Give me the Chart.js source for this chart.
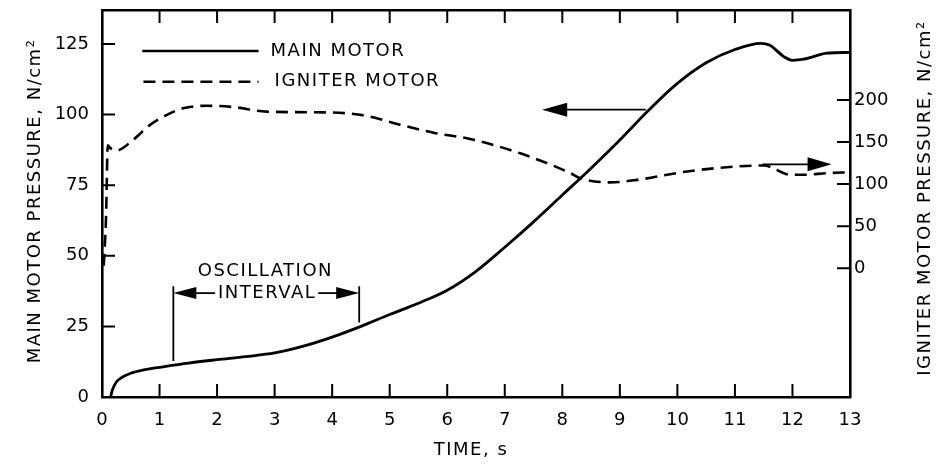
<!DOCTYPE html>
<html>
<head>
<meta charset="utf-8">
<script src="https://cdn.jsdelivr.net/npm/chart.js@4.4.1/dist/chart.umd.min.js"></script>
<style>
  html, body { margin: 0; padding: 0; background: #fff; }
  #wrap { width: 937px; height: 464px; }
</style>
</head>
<body>
<div id="wrap"><canvas id="chart"></canvas></div>
<script>
// Data
const mainTime     = [0.15, 0.18, 0.25, 0.35, 0.5, 0.75, 1.0, 1.5, 2.0, 2.5, 3.0, 3.5, 4.0, 4.5, 5.0, 5.5, 6.0, 6.5, 7.0, 7.5, 8.0, 8.5, 9.0, 9.5, 10.0, 10.5, 11.0, 11.45, 11.6, 11.85, 12.0, 12.2, 12.6, 13.0];
const mainPressure = [0, 2.5, 5.3, 7.0, 8.4, 9.7, 10.5, 12.0, 13.2, 14.3, 15.6, 18.0, 21.2, 25.0, 29.2, 33.2, 37.8, 44.5, 53, 62, 71.5, 81, 91, 101.5, 111, 118.3, 123, 125.2, 124.6, 120.5, 119.2, 119.6, 121.7, 122];

const igniterTime     = [0.03, 0.07, 0.1, 0.14, 0.26, 0.54, 0.83, 1.12, 1.41, 1.82, 2.28, 2.86, 4.0, 4.6, 5.18, 5.76, 6.4, 7.27, 8.14, 8.31, 8.83, 9.3, 10.17, 11.04, 11.5, 11.97, 12.2, 12.6, 13.0];
const igniterPressure = [3, 60, 146, 143, 140, 152.5, 170, 182, 190, 193, 191.5, 186, 185, 181, 170.5, 161, 153.5, 136.5, 113, 107, 102, 105, 115, 121, 122, 111, 111, 113, 114];

const timeTicks     = [0, 1, 2, 3, 4, 5, 6, 7, 8, 9, 10, 11, 12, 13];
const mainTicks     = [0, 25, 50, 75, 100, 125];
const igniterTicks  = [0, 50, 100, 150, 200];

const FONT = '"DejaVu Sans", sans-serif';
const toPoints = (xs, ys) => xs.map((x, i) => ({ x: x, y: ys[i] }));
const setTicks = list => scale => { scale.ticks = list.map(v => ({ value: v })); };
const noPad = s => { s.paddingTop = 0; s.paddingBottom = 0; s.paddingLeft = 0; s.paddingRight = 0; };

function arrowHead(ctx, x, y, dir, len, half) {
    ctx.beginPath();
    ctx.moveTo(x, y);
    ctx.lineTo(x - dir * len, y - half);
    ctx.lineTo(x - dir * len, y + half);
    ctx.closePath();
    ctx.fill();
}

function text(ctx, str, x, y, align, rot) {
    ctx.save();
    ctx.translate(x, y);
    if (rot) ctx.rotate(rot);
    ctx.textAlign = align || 'center';
    ctx.textBaseline = 'middle';
    ctx.fillText(str, 0, 0);
    ctx.restore();
}

// inward ticks, labels, arrows and titles
const decorations = {
    id: 'decorations',
    afterDraw(chart) {
        const { ctx, chartArea: a, scales } = chart;
        const X = v => scales.x.getPixelForValue(v);
        const Y = v => scales.y.getPixelForValue(v);
        const Y2 = v => scales.y2.getPixelForValue(v);
        const tl = 13;

        ctx.save();
        ctx.strokeStyle = '#000';
        ctx.fillStyle = '#000';
        ctx.lineWidth = 2;
        ctx.beginPath();
        timeTicks.slice(1, -1).forEach(v => {
            ctx.moveTo(X(v), a.bottom); ctx.lineTo(X(v), a.bottom - tl);
            ctx.moveTo(X(v), a.top); ctx.lineTo(X(v), a.top + tl);
        });
        mainTicks.slice(1).forEach(v => { ctx.moveTo(a.left, Y(v)); ctx.lineTo(a.left + tl, Y(v)); });
        igniterTicks.forEach(v => { ctx.moveTo(a.right, Y2(v)); ctx.lineTo(a.right - tl, Y2(v)); });
        ctx.stroke();

        ctx.font = '18px ' + FONT;
        ctx.letterSpacing = '1.5px';

        // legend
        ctx.lineWidth = 2.6;
        ctx.beginPath();
        ctx.moveTo(X(0.7), Y(122.5)); ctx.lineTo(X(2.72), Y(122.5));
        ctx.stroke();
        ctx.setLineDash([12, 7]);
        ctx.beginPath();
        ctx.moveTo(X(0.72), Y(111.6)); ctx.lineTo(X(2.72), Y(111.6));
        ctx.stroke();
        ctx.setLineDash([]);
        text(ctx, 'MAIN MOTOR', X(2.93), Y(122.5), 'left');
        text(ctx, 'IGNITER MOTOR', X(3.0), Y(111.6), 'left');

        // arrow to the main motor axis
        ctx.lineWidth = 1.8;
        ctx.beginPath();
        ctx.moveTo(X(9.45), Y(101.7)); ctx.lineTo(X(7.65) + 20, Y(101.7));
        ctx.stroke();
        arrowHead(ctx, X(7.65), Y(101.7), -1, 25, 7);

        // arrow to the igniter motor axis
        ctx.beginPath();
        ctx.moveTo(X(11.48), Y2(123.4)); ctx.lineTo(X(12.68) - 20, Y2(123.4));
        ctx.stroke();
        arrowHead(ctx, X(12.68), Y2(123.4), 1, 24, 7);

        // oscillation interval bracket
        const xl = X(1.24), xr = X(4.47), ya = Y(36.8);
        ctx.beginPath();
        ctx.moveTo(xl, Y(39.2)); ctx.lineTo(xl, Y(12.7));
        ctx.moveTo(xr, Y(39.2)); ctx.lineTo(xr, Y(26.4));
        ctx.stroke();
        text(ctx, 'OSCILLATION', X(2.84), Y(44.5));
        const label = 'INTERVAL';
        const cx = X(2.87);
        const w = ctx.measureText(label).width;
        text(ctx, label, cx, ya);
        ctx.beginPath();
        ctx.moveTo(xl + 20, ya); ctx.lineTo(cx - w / 2 - 3, ya);
        ctx.moveTo(cx + w / 2 + 2, ya); ctx.lineTo(xr - 20, ya);
        ctx.stroke();
        arrowHead(ctx, xl, ya, -1, 23, 6);
        arrowHead(ctx, xr, ya, 1, 23, 6);

        // axis titles
        text(ctx, 'MAIN MOTOR PRESSURE, N/cm\u00b2', 35, 201, 'center', -Math.PI / 2);
        text(ctx, 'IGNITER MOTOR PRESSURE, N/cm\u00b2', 925, 198, 'center', -Math.PI / 2);
        text(ctx, 'TIME, s', 471, 450);
        ctx.restore();
    }
};

const tickFont = { family: FONT, size: 18 };
const border = { display: true, color: '#000', width: 2.6 };

new Chart(document.getElementById('chart'), {
    type: 'line',
    data: {
        datasets: [
            {
                label: 'MAIN MOTOR',
                data: toPoints(mainTime, mainPressure),
                borderColor: '#000',
                borderWidth: 2.8,
                pointRadius: 0,
                cubicInterpolationMode: 'monotone',
                xAxisID: 'x',
                yAxisID: 'y'
            },
            {
                label: 'IGNITER MOTOR',
                data: toPoints(igniterTime, igniterPressure),
                borderColor: '#000',
                borderWidth: 2.6,
                borderDash: [12, 7],
                pointRadius: 0,
                cubicInterpolationMode: 'monotone',
                xAxisID: 'x',
                yAxisID: 'y2'
            }
        ]
    },
    options: {
        responsive: true,
        maintainAspectRatio: false,
        animation: false,
        layout: { padding: 0 },
        plugins: { legend: { display: false }, tooltip: { enabled: false } },
        scales: {
            x: {
                type: 'linear', position: 'bottom', min: 0, max: 13,
                afterBuildTicks: setTicks(timeTicks),
                afterFit: s => { noPad(s); s.height = 67; },
                grid: { display: false, drawTicks: false },
                border: border,
                ticks: { font: tickFont, color: '#000', padding: 13, maxRotation: 0, autoSkip: false }
            },
            x2: {
                type: 'linear', position: 'top', min: 0, max: 13,
                afterFit: s => { noPad(s); s.height = 10; },
                grid: { display: false, drawTicks: false },
                border: border,
                ticks: { display: false }
            },
            y: {
                type: 'linear', position: 'left', min: 0, max: 137,
                afterBuildTicks: setTicks(mainTicks),
                afterFit: s => { noPad(s); s.width = 102; },
                grid: { display: false, drawTicks: false },
                border: border,
                ticks: { font: tickFont, color: '#000', padding: 13 }
            },
            y2: {
                type: 'linear', position: 'right', min: -153, max: 306.8,
                afterBuildTicks: setTicks(igniterTicks),
                afterFit: s => { noPad(s); s.width = 87; },
                grid: { display: false, drawTicks: false },
                border: border,
                ticks: { font: tickFont, color: '#000', padding: 4 }
            }
        }
    },
    plugins: [decorations]
});
</script>
</body>
</html>
